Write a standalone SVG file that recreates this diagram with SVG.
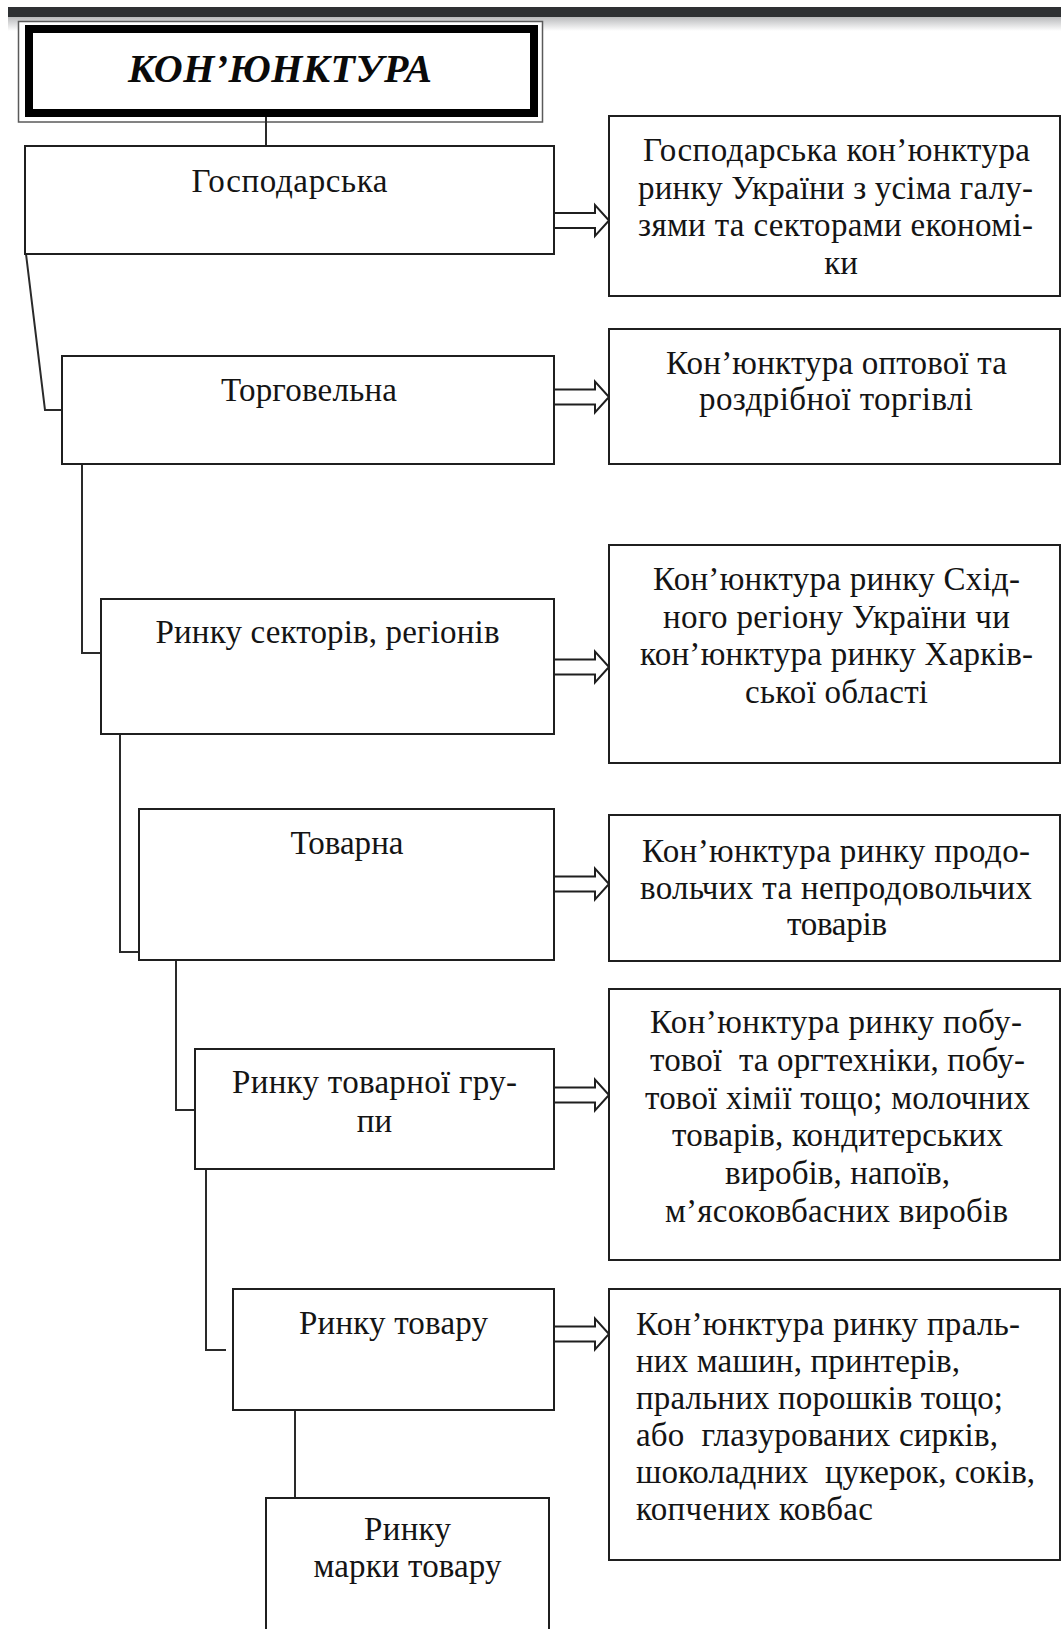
<svg xmlns="http://www.w3.org/2000/svg" width="1061" height="1629" viewBox="0 0 1061 1629">
<defs>
<linearGradient id="shadow" x1="0" y1="0" x2="0" y2="1">
<stop offset="0" stop-color="#b9babc"/>
<stop offset="1" stop-color="#ffffff"/>
</linearGradient>
<style>
.box{fill:#ffffff;stroke:#1f1f1f;stroke-width:2}
.conn{fill:none;stroke:#2a2a2a;stroke-width:2}
.arrow{fill:#ffffff;stroke:#1f1f1f;stroke-width:2;stroke-linejoin:miter}
.t{font-family:"Liberation Serif","Times New Roman",serif;font-size:33px;fill:#141414}
.c{text-anchor:middle}
.title{font-family:"Liberation Serif","Times New Roman",serif;font-size:40px;font-weight:bold;font-style:italic;fill:#0a0a0a;text-anchor:middle}
</style>
</defs>
<rect x="0" y="0" width="1061" height="1629" fill="#ffffff"/>
<rect x="8" y="17" width="1053" height="14" fill="url(#shadow)"/>
<rect x="8" y="7" width="1053" height="10" fill="#2e3033"/>

<g id="title">
<rect x="18.5" y="21.5" width="524" height="100.5" fill="#ffffff" stroke="#5a5a5a" stroke-width="1.5"/>
<rect x="29" y="29" width="505" height="84" fill="#ffffff" stroke="#000000" stroke-width="8"/>
<text class="title" x="280" y="82" textLength="304">КОН’ЮНКТУРА</text>
</g>

<g id="connectors">
<path class="conn" d="M266,117 V146"/>
<path class="conn" d="M26,235 V254 L45,410 H62"/>
<path class="conn" d="M82,464 V653 H101"/>
<path class="conn" d="M120,734 V952 H139"/>
<path class="conn" d="M176,960 V1110 H195"/>
<path class="conn" d="M206,1169 V1350 H226"/>
<path class="conn" d="M295,1407 V1498"/>
<path class="arrow" d="M554,213 H595 V205 L609,220.5 L595,236 V228 H554"/>
<path class="arrow" d="M554,389.5 H595 V381.5 L609,397 L595,412.5 V404.5 H554"/>
<path class="arrow" d="M554,659.5 H595 V651.5 L609,667 L595,682.5 V674.5 H554"/>
<path class="arrow" d="M554,876.5 H595 V868.5 L609,884 L595,899.5 V891.5 H554"/>
<path class="arrow" d="M554,1087.5 H595 V1079.5 L609,1095 L595,1110.5 V1102.5 H554"/>
<path class="arrow" d="M554,1326.5 H595 V1318.5 L609,1334 L595,1349.5 V1341.5 H554"/>
</g>

<g id="n-gospodarska">
<rect class="box" x="25" y="146" width="529" height="108"/>
<text class="t c" x="289.5" y="192" textLength="196">Господарська</text>
</g>
<g id="n-torgovelna">
<rect class="box" x="62" y="356" width="492" height="108"/>
<text class="t c" x="309" y="401" textLength="176">Торговельна</text>
</g>
<g id="n-sectors">
<rect class="box" x="101" y="599" width="453" height="135"/>
<text class="t c" x="327.5" y="643" textLength="344">Ринку секторів, регіонів</text>
</g>
<g id="n-tovarna">
<rect class="box" x="139" y="809" width="415" height="151"/>
<text class="t c" x="347" y="854" textLength="113">Товарна</text>
</g>
<g id="n-group">
<rect class="box" x="195" y="1049" width="359" height="120"/>
<text class="t c" x="374.5" y="1093" textLength="285">Ринку товарної гру-</text>
<text class="t c" x="374.5" y="1132">пи</text>
</g>
<g id="n-tovaru">
<rect class="box" x="233" y="1289" width="321" height="121"/>
<text class="t c" x="393.5" y="1334" textLength="189">Ринку товару</text>
</g>
<g id="n-marky">
<rect class="box" x="266" y="1498" width="283" height="150"/>
<text class="t c" x="407.5" y="1540" textLength="87">Ринку</text>
<text class="t c" x="407.5" y="1577" textLength="188">марки товару</text>
</g>

<g id="d-gospodarska">
<rect class="box" x="609" y="116" width="451" height="180"/>
<text class="t c" x="836.5" y="161" textLength="387">Господарська кон’юнктура</text>
<text class="t c" x="835.5" y="198.5" textLength="395">ринку України з усіма галу-</text>
<text class="t c" x="835.5" y="236" textLength="395">зями та секторами економі-</text>
<text class="t c" x="841" y="273.5">ки</text>
</g>
<g id="d-torgovelna">
<rect class="box" x="609" y="329" width="451" height="135"/>
<text class="t c" x="836.5" y="373.5" textLength="341">Кон’юнктура оптової та</text>
<text class="t c" x="836" y="410" textLength="274">роздрібної торгівлі</text>
</g>
<g id="d-sectors">
<rect class="box" x="609" y="545" width="451" height="218"/>
<text class="t c" x="836.5" y="590" textLength="367">Кон’юнктура ринку Схід-</text>
<text class="t c" x="836.5" y="627.5" textLength="347">ного регіону України чи</text>
<text class="t c" x="836.5" y="665" textLength="393">кон’юнктура ринку Харків-</text>
<text class="t c" x="836.5" y="702.5" textLength="183">ської області</text>
</g>
<g id="d-tovarna">
<rect class="box" x="609" y="815" width="451" height="146"/>
<text class="t c" x="836" y="862" textLength="388">Кон’юнктура ринку продо-</text>
<text class="t c" x="836" y="898.5" textLength="392">вольчих та непродовольчих</text>
<text class="t c" x="837" y="935" textLength="100">товарів</text>
</g>
<g id="d-group">
<rect class="box" x="609" y="989" width="451" height="271"/>
<text class="t c" x="836" y="1033" textLength="372">Кон’юнктура ринку побу-</text>
<text class="t c" x="837.5" y="1071" textLength="375" xml:space="preserve">тової  та оргтехніки, побу-</text>
<text class="t c" x="837.5" y="1108.5" textLength="385">тової хімії тощо; молочних</text>
<text class="t c" x="837.5" y="1146" textLength="331">товарів, кондитерських</text>
<text class="t c" x="837.5" y="1184" textLength="225">виробів, напоїв,</text>
<text class="t c" x="836.5" y="1221.5" textLength="343">м’ясоковбасних виробів</text>
</g>
<g id="d-tovaru">
<rect class="box" x="609" y="1289" width="451" height="271"/>
<text class="t" x="636" y="1335" textLength="384">Кон’юнктура ринку праль-</text>
<text class="t" x="636" y="1372" textLength="324">них машин, принтерів,</text>
<text class="t" x="636" y="1409" textLength="367">пральних порошків тощо;</text>
<text class="t" x="636" y="1446" textLength="362" xml:space="preserve">або  глазурованих сирків,</text>
<text class="t" x="636" y="1483" textLength="399" xml:space="preserve">шоколадних  цукерок, соків,</text>
<text class="t" x="636" y="1520" textLength="237">копчених ковбас</text>
</g>
</svg>
